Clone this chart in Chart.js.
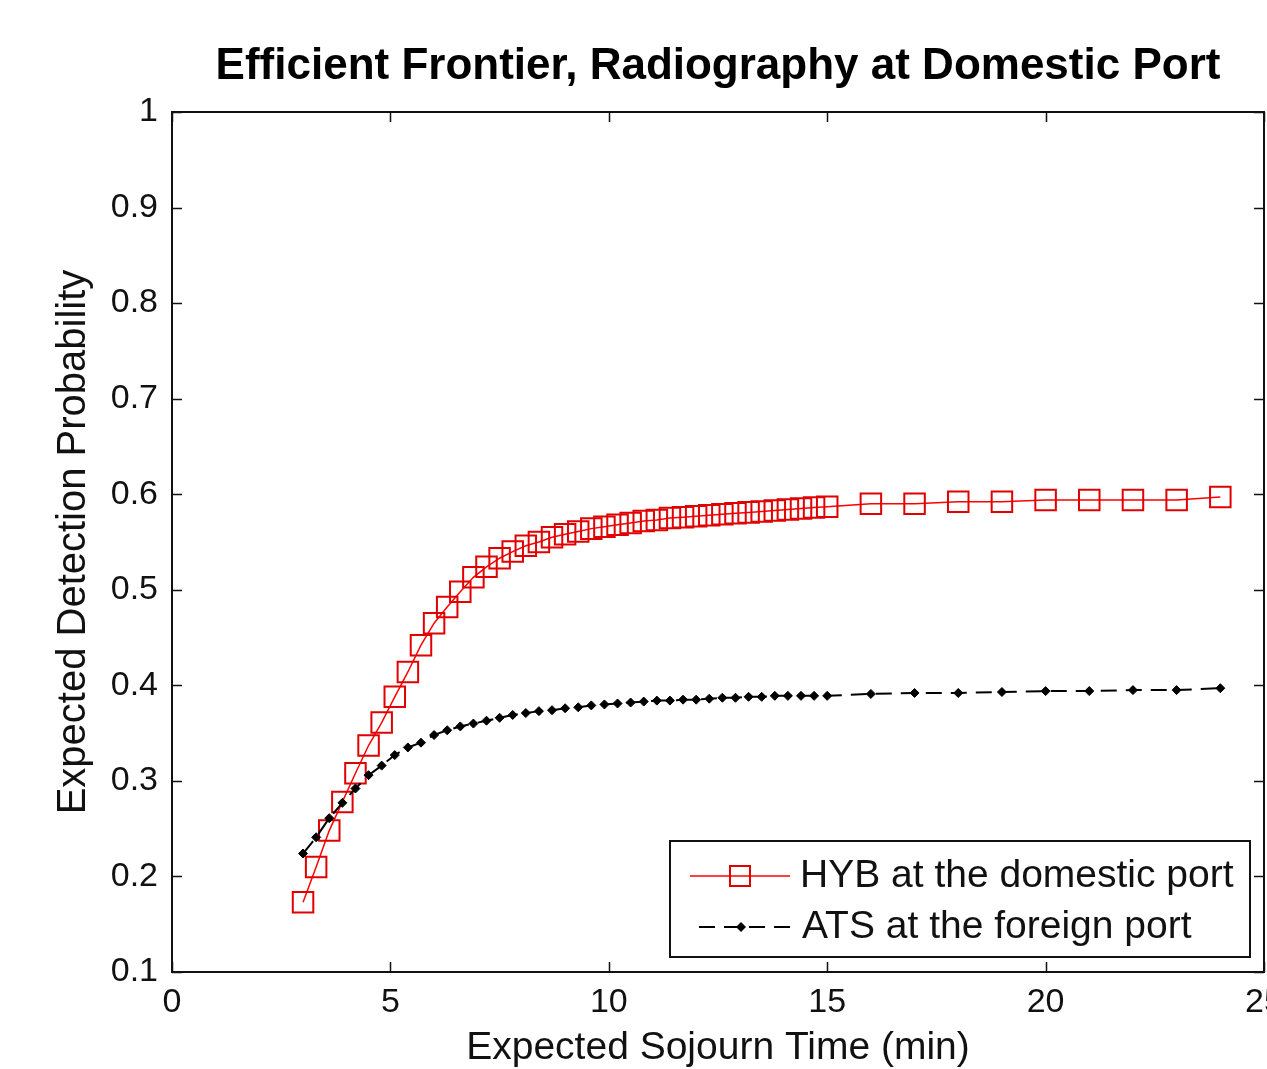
<!DOCTYPE html>
<html>
<head>
<meta charset="utf-8">
<script src="https://cdn.jsdelivr.net/npm/chart.js@4.4.1/dist/chart.umd.min.js"></script>
<style>
    html, body { margin: 0; padding: 0; background: #fff; overflow: hidden; }
    canvas { display: block; }
</style>
</head>
<body>
<canvas id="frontier" width="1300" height="1069"></canvas>
<script>
// expected sojourn time (min), shared by both curves
const sojournTime = [
    3.0, 3.3, 3.6, 3.9, 4.2, 4.5, 4.8, 5.1, 5.4, 5.7,
    6.0, 6.3, 6.6, 6.9, 7.2, 7.5, 7.8, 8.1, 8.4, 8.7,
    9.0, 9.3, 9.6, 9.9, 10.2, 10.5, 10.8, 11.1, 11.4, 11.7,
    12.0, 12.3, 12.6, 12.9, 13.2, 13.5, 13.8, 14.1, 14.4, 14.7,
    15.0, 16, 17, 18, 19, 20, 21, 22, 23, 24
];

// HYB at the domestic port
const hybProb = [
    0.173, 0.210, 0.248, 0.278, 0.308, 0.337, 0.361, 0.388, 0.414, 0.442,
    0.465, 0.482, 0.498, 0.513, 0.524, 0.533, 0.540, 0.546, 0.550, 0.555,
    0.558, 0.561, 0.564, 0.566, 0.568, 0.570, 0.572, 0.573, 0.575, 0.576,
    0.577, 0.578, 0.579, 0.580, 0.581, 0.582, 0.583, 0.584, 0.585, 0.586,
    0.587, 0.590, 0.590, 0.592, 0.592, 0.594, 0.594, 0.594, 0.594, 0.597
];

// ATS at the foreign port
const atsProb = [
    0.224, 0.241, 0.261, 0.277, 0.292, 0.306, 0.316, 0.327, 0.335, 0.340,
    0.348, 0.353, 0.357, 0.360, 0.363, 0.366, 0.369, 0.371, 0.373, 0.374,
    0.376, 0.377, 0.379, 0.380, 0.381, 0.382, 0.383, 0.384, 0.384, 0.385,
    0.385, 0.386, 0.387, 0.387, 0.388, 0.388, 0.389, 0.389, 0.389, 0.389,
    0.389, 0.391, 0.392, 0.392, 0.393, 0.394, 0.394, 0.395, 0.395, 0.397
];

const seriesLabels = ['HYB at the domestic port', 'ATS at the foreign port'];
const chartTitle = 'Efficient Frontier, Radiography at Domestic Port';

const FONT = "'Liberation Sans', Arial, sans-serif";
const INK = '#111';

function toPoints(xs, ys) {
    return xs.map((x, i) => ({ x: x, y: ys[i] }));
}

// title centred over the axes box (the built-in one centres on the canvas)
const axesTitle = {
    id: 'axesTitle',
    afterDraw(chart) {
        const { ctx, chartArea: a } = chart;
        ctx.save();
        ctx.fillStyle = '#000';
        ctx.font = 'bold 44px ' + FONT;
        ctx.textAlign = 'center';
        ctx.textBaseline = 'middle';
        ctx.fillText(chartTitle, (a.left + a.right) / 2, 67);
        ctx.restore();
    }
};

// box round the axes, with the ticks pointing inwards on all four sides
const frameTicks = {
    id: 'frameTicks',
    afterDatasetsDraw(chart) {
        const { ctx, chartArea: a, scales: { x, y } } = chart;
        const len = 10;
        ctx.save();
        ctx.strokeStyle = INK;
        ctx.lineWidth = 1.5;
        ctx.beginPath();
        x.ticks.forEach(t => {
            const px = Math.round(x.getPixelForValue(t.value)) + 0.5;
            ctx.moveTo(px, a.bottom); ctx.lineTo(px, a.bottom - len);
            ctx.moveTo(px, a.top); ctx.lineTo(px, a.top + len);
        });
        y.ticks.forEach(t => {
            const py = Math.round(y.getPixelForValue(t.value)) + 0.5;
            ctx.moveTo(a.left, py); ctx.lineTo(a.left + len, py);
            ctx.moveTo(a.right, py); ctx.lineTo(a.right - len, py);
        });
        ctx.stroke();
        ctx.lineWidth = 2;
        ctx.strokeRect(a.left, a.top, a.right - a.left, a.bottom - a.top);
        ctx.restore();
    }
};

// boxed legend in the lower right corner
const boxLegend = {
    id: 'boxLegend',
    afterDraw(chart) {
        const { ctx } = chart;
        const ds = chart.data.datasets;
        const left = 670, top = 841, right = 1250, bottom = 957;
        const rows = [876, 927];
        ctx.save();
        ctx.fillStyle = '#fff';
        ctx.fillRect(left, top, right - left, bottom - top);
        ctx.strokeStyle = INK;
        ctx.lineWidth = 2;
        ctx.strokeRect(left, top, right - left, bottom - top);

        // red sample
        ctx.strokeStyle = ds[0].borderColor;
        ctx.lineWidth = 1.5;
        ctx.beginPath();
        ctx.moveTo(690, rows[0]); ctx.lineTo(790, rows[0]);
        ctx.stroke();
        ctx.strokeStyle = ds[0].pointBorderColor;
        ctx.lineWidth = 2;
        ctx.strokeRect(730, rows[0] - 10, 20, 20);

        // black dashed sample
        ctx.strokeStyle = ds[1].borderColor;
        ctx.lineWidth = 2;
        ctx.setLineDash([16, 9]);
        ctx.beginPath();
        ctx.moveTo(699, rows[1]); ctx.lineTo(795, rows[1]);
        ctx.stroke();
        ctx.setLineDash([]);
        ctx.fillStyle = ds[1].pointBackgroundColor;
        ctx.beginPath();
        ctx.moveTo(741, rows[1] - 5); ctx.lineTo(746, rows[1]);
        ctx.lineTo(741, rows[1] + 5); ctx.lineTo(736, rows[1]);
        ctx.closePath();
        ctx.fill();

        ctx.fillStyle = INK;
        ctx.font = '39px ' + FONT;
        ctx.textAlign = 'left';
        ctx.textBaseline = 'middle';
        ctx.fillText(ds[0].label, 800, rows[0]);
        ctx.fillText(ds[1].label, 802, rows[1]);
        ctx.restore();
    }
};

const ctx = document.getElementById('frontier').getContext('2d');
const chart = new Chart(ctx, {
    type: 'line',
    data: {
        datasets: [{
            label: seriesLabels[0],
            data: toPoints(sojournTime, hybProb),
            borderColor: '#ff0000',
            borderWidth: 1.5,
            pointStyle: 'rect',
            pointRadius: 14.5,
            pointBorderWidth: 2,
            pointBorderColor: '#e00000',
            pointBackgroundColor: 'rgba(0,0,0,0)',
            fill: false,
            tension: 0,
            order: 1
        }, {
            label: seriesLabels[1],
            data: toPoints(sojournTime, atsProb),
            borderColor: '#000000',
            borderWidth: 2,
            borderDash: [16, 9],
            pointStyle: 'rectRot',
            pointRadius: 4.5,
            pointBorderWidth: 1,
            pointBorderColor: '#000',
            pointBackgroundColor: '#000',
            fill: false,
            tension: 0,
            order: 0
        }]
    },
    options: {
        responsive: false,
        animation: false,
        devicePixelRatio: 1,
        layout: { padding: { left: 0, right: 36, top: 112, bottom: 0 } },
        plugins: {
            legend: { display: false },
            tooltip: { enabled: false },
            title: { display: false }
        },
        scales: {
            x: {
                type: 'linear',
                min: 0,
                max: 25,
                ticks: {
                    stepSize: 5,
                    color: INK,
                    font: { family: FONT, size: 34 },
                    padding: 10,
                    maxRotation: 0,
                    autoSkip: false
                },
                grid: { display: false, drawTicks: false },
                border: { display: false },
                title: {
                    display: true,
                    text: 'Expected Sojourn Time (min)',
                    color: INK,
                    font: { family: FONT, size: 39, lineHeight: 1.05 },
                    padding: { top: 0, bottom: 0 }
                },
                afterFit(scale) { scale.height = 97; }
            },
            y: {
                type: 'linear',
                min: 0.1,
                max: 1,
                ticks: {
                    stepSize: 0.1,
                    color: INK,
                    font: { family: FONT, size: 34 },
                    padding: 14,
                    callback: v => String(Number(v.toFixed(2)))
                },
                grid: { display: false, drawTicks: false },
                border: { display: false },
                title: {
                    display: true,
                    text: 'Expected Detection Probability',
                    color: INK,
                    font: { family: FONT, size: 40, lineHeight: 1.2 },
                    padding: { top: 50, bottom: 0 }
                },
                afterFit(scale) { scale.width = 172; }
            }
        }
    },
    plugins: [frameTicks, boxLegend, axesTitle]
});
</script>
</body>
</html>
